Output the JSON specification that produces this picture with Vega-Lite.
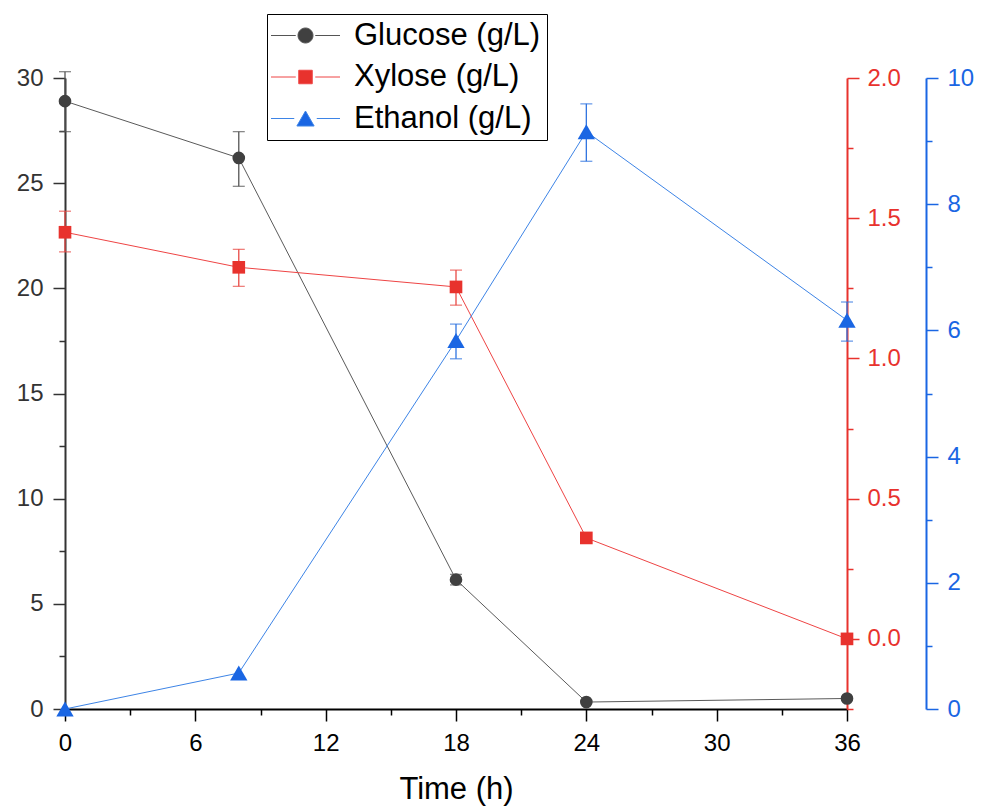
{
  "$schema": "https://vega.github.io/schema/vega-lite/v6.json",
  "autosize": {"type": "none"},
  "padding": {"left": 65, "top": 78, "right": 140, "bottom": 98},
  "width": 782,
  "height": 631,
  "background": "#ffffff",
  "config": {
    "view": {"stroke": null},
    "font": "Liberation Sans",
    "axis": {"grid": false, "labelFont": "Liberation Sans", "titleFont": "Liberation Sans"}
  },
  "data": {
    "values": [
      {"series": "Glucose (g/L)", "t": 0, "v": 28.9, "lo": 27.45, "hi": 30.3},
      {"series": "Glucose (g/L)", "t": 8, "v": 26.2, "lo": 24.85, "hi": 27.45},
      {"series": "Glucose (g/L)", "t": 18, "v": 6.15, "lo": 5.9, "hi": 6.4},
      {"series": "Glucose (g/L)", "t": 24, "v": 0.33},
      {"series": "Glucose (g/L)", "t": 36, "v": 0.5},
      {"series": "Xylose (g/L)", "t": 0, "v": 1.45, "lo": 1.38, "hi": 1.525},
      {"series": "Xylose (g/L)", "t": 8, "v": 1.325, "lo": 1.257, "hi": 1.389},
      {"series": "Xylose (g/L)", "t": 18, "v": 1.255, "lo": 1.19, "hi": 1.315},
      {"series": "Xylose (g/L)", "t": 24, "v": 0.36},
      {"series": "Xylose (g/L)", "t": 36, "v": 0.0},
      {"series": "Ethanol (g/L)", "t": 0, "v": 0},
      {"series": "Ethanol (g/L)", "t": 8, "v": 0.57},
      {"series": "Ethanol (g/L)", "t": 18, "v": 5.84, "lo": 5.55, "hi": 6.1},
      {"series": "Ethanol (g/L)", "t": 24, "v": 9.15, "lo": 8.68, "hi": 9.59},
      {"series": "Ethanol (g/L)", "t": 36, "v": 6.16, "lo": 5.83, "hi": 6.45}
    ]
  },
  "layer": [
    {
      "transform": [{"filter": "datum.series === 'Glucose (g/L)'"}],
      "layer": [
        {
          "transform": [{"filter": "isValid(datum.lo)"}],
          "mark": {"type": "errorbar", "ticks": {"color": "#555555"}, "rule": {"color": "#555555"}, "size": 12, "thickness": 1.3, "color": "#555555"},
          "encoding": {
            "x": {"field": "t", "type": "quantitative", "scale": {"domain": [0, 36], "nice": false, "zero": false}, "axis": null},
            "y": {"field": "lo", "type": "quantitative", "scale": {"domain": [0, 30], "nice": false}, "axis": null},
            "y2": {"field": "hi"}
          }
        },
        {
          "mark": {"type": "line", "color": "#5a5a5a", "strokeWidth": 1},
          "encoding": {
            "x": {"field": "t", "type": "quantitative", "scale": {"domain": [0, 36], "nice": false, "zero": false},
              "axis": {"orient": "bottom", "values": [0, 6, 12, 18, 24, 30, 36], "title": "Time (h)", "titleFontSize": 31, "titleFontWeight": "normal", "titleColor": "#000000", "titlePadding": 19, "labelFontSize": 24, "labelColor": "#000000", "labelFlush": false, "labelPadding": 10, "tickSize": 12, "tickWidth": 1.5, "tickColor": "#000000", "domainColor": "#000000", "domainWidth": 2}},
            "y": {"field": "v", "type": "quantitative", "scale": {"domain": [0, 30], "nice": false},
              "axis": {"orient": "left", "values": [0, 5, 10, 15, 20, 25, 30], "title": null, "labelFontSize": 24, "labelColor": "#333333", "labelPadding": 10, "tickSize": 12, "tickWidth": 1.5, "tickColor": "#333333", "domainColor": "#333333", "domainWidth": 2}}
          }
        },
        {
          "mark": {"type": "point", "filled": true, "shape": "circle", "size": 160, "opacity": 1},
          "encoding": {
            "x": {"field": "t", "type": "quantitative", "scale": {"domain": [0, 36], "nice": false, "zero": false},
              "axis": {"orient": "bottom", "values": [3, 9, 15, 21, 27, 33], "title": null, "labels": false, "domain": false, "tickSize": 6, "tickWidth": 1.5, "tickColor": "#000000"}},
            "y": {"field": "v", "type": "quantitative", "scale": {"domain": [0, 30], "nice": false},
              "axis": {"orient": "left", "values": [2.5, 7.5, 12.5, 17.5, 22.5, 27.5], "title": null, "labels": false, "domain": false, "tickSize": 6, "tickWidth": 1.5, "tickColor": "#333333"}},
            "color": {
              "field": "series", "type": "nominal",
              "scale": {"domain": ["Glucose (g/L)", "Xylose (g/L)", "Ethanol (g/L)"], "range": ["#404040", "#e8322d", "#1a66e3"]},
              "legend": {
                "orient": "none", "legendX": 202, "legendY": -64, "title": null,
                "strokeColor": "#000000", "fillColor": "#ffffff", "padding": 6,
                "labelFont": "Liberation Sans", "labelFontSize": 31, "labelColor": "#000000", "labelLimit": 400,
                "symbolSize": 225, "symbolOffset": 17, "labelOffset": 33, "rowPadding": 9.5, "symbolStrokeWidth": 1,
                "encoding": {
                  "symbols": {
                    "shape": {"value": {"expr": "datum.value === 'Glucose (g/L)' ? 'M-4.6,0H-1.3M1.3,0H4.6M1,0A1,1,0,1,1,-1,0A1,1,0,1,1,1,0Z' : datum.value === 'Xylose (g/L)' ? 'M-4.6,0H-1.3M1.3,0H4.6M-0.9,-0.9H0.9V0.9H-0.9Z' : 'M-4.6,0H-1.5M1.5,0H4.6M0,-1L1.15,1H-1.15Z'"}},
                    "stroke": {"value": {"expr": "datum.value === 'Glucose (g/L)' ? '#555555' : datum.value === 'Xylose (g/L)' ? '#ee4444' : '#3d84e6'"}},
                    "strokeWidth": {"value": 1}
                  }
                }
              }
            }
          }
        }
      ],
      "resolve": {"axis": {"x": "independent", "y": "independent"}}
    },
    {
      "transform": [{"filter": "datum.series === 'Xylose (g/L)'"}],
      "layer": [
        {
          "transform": [{"filter": "isValid(datum.lo)"}],
          "mark": {"type": "errorbar", "ticks": {"color": "#e84a45"}, "rule": {"color": "#e84a45"}, "size": 12, "thickness": 1.3, "color": "#e84a45"},
          "encoding": {
            "x": {"field": "t", "type": "quantitative", "scale": {"domain": [0, 36], "nice": false, "zero": false}, "axis": null},
            "y": {"field": "lo", "type": "quantitative", "scale": {"domain": [-0.25, 2], "nice": false, "zero": false}, "axis": null},
            "y2": {"field": "hi"}
          }
        },
        {
          "mark": {"type": "line", "color": "#ee4444", "strokeWidth": 1},
          "encoding": {
            "x": {"field": "t", "type": "quantitative", "scale": {"domain": [0, 36], "nice": false, "zero": false}, "axis": null},
            "y": {"field": "v", "type": "quantitative", "scale": {"domain": [-0.25, 2], "nice": false, "zero": false},
              "axis": {"orient": "right", "values": [0, 0.5, 1, 1.5, 2], "format": ".1f", "title": null, "labelFontSize": 24, "labelColor": "#e8322d", "labelPadding": 8, "tickSize": 12, "tickWidth": 1.5, "tickColor": "#e8322d", "domainColor": "#e8322d", "domainWidth": 2}}
          }
        },
        {
          "mark": {"type": "point", "filled": true, "shape": "square", "size": 160, "opacity": 1},
          "encoding": {
            "x": {"field": "t", "type": "quantitative", "scale": {"domain": [0, 36], "nice": false, "zero": false}, "axis": null},
            "y": {"field": "v", "type": "quantitative", "scale": {"domain": [-0.25, 2], "nice": false, "zero": false},
              "axis": {"orient": "right", "values": [-0.25, 0.25, 0.75, 1.25, 1.75], "title": null, "labels": false, "domain": false, "tickSize": 6, "tickWidth": 1.5, "tickColor": "#e8322d"}},
            "color": {"field": "series", "type": "nominal", "scale": {"domain": ["Glucose (g/L)", "Xylose (g/L)", "Ethanol (g/L)"], "range": ["#404040", "#e8322d", "#1a66e3"]}, "legend": null}
          }
        }
      ],
      "resolve": {"axis": {"x": "independent", "y": "independent"}}
    },
    {
      "transform": [{"filter": "datum.series === 'Ethanol (g/L)'"}],
      "layer": [
        {
          "transform": [{"filter": "isValid(datum.lo)"}],
          "mark": {"type": "errorbar", "ticks": {"color": "#2f74e0"}, "rule": {"color": "#2f74e0"}, "size": 12, "thickness": 1.3, "color": "#2f74e0"},
          "encoding": {
            "x": {"field": "t", "type": "quantitative", "scale": {"domain": [0, 36], "nice": false, "zero": false}, "axis": null},
            "y": {"field": "lo", "type": "quantitative", "scale": {"domain": [0, 10], "nice": false}, "axis": null},
            "y2": {"field": "hi"}
          }
        },
        {
          "mark": {"type": "line", "color": "#3d84e6", "strokeWidth": 1},
          "encoding": {
            "x": {"field": "t", "type": "quantitative", "scale": {"domain": [0, 36], "nice": false, "zero": false}, "axis": null},
            "y": {"field": "v", "type": "quantitative", "scale": {"domain": [0, 10], "nice": false},
              "axis": {"orient": "right", "offset": 79, "values": [0, 2, 4, 6, 8, 10], "title": null, "labelFontSize": 24, "labelColor": "#1a66e3", "labelPadding": 9, "tickSize": 12, "tickWidth": 1.5, "tickColor": "#1a66e3", "domainColor": "#1a66e3", "domainWidth": 2}}
          }
        },
        {
          "mark": {"type": "point", "filled": true, "shape": "triangle-up", "size": 300, "opacity": 1},
          "encoding": {
            "x": {"field": "t", "type": "quantitative", "scale": {"domain": [0, 36], "nice": false, "zero": false}, "axis": null},
            "y": {"field": "v", "type": "quantitative", "scale": {"domain": [0, 10], "nice": false},
              "axis": {"orient": "right", "offset": 79, "values": [1, 3, 5, 7, 9], "title": null, "labels": false, "domain": false, "tickSize": 6, "tickWidth": 1.5, "tickColor": "#1a66e3"}},
            "color": {"field": "series", "type": "nominal", "scale": {"domain": ["Glucose (g/L)", "Xylose (g/L)", "Ethanol (g/L)"], "range": ["#404040", "#e8322d", "#1a66e3"]}, "legend": null}
          }
        }
      ],
      "resolve": {"axis": {"x": "independent", "y": "independent"}}
    }
  ],
  "resolve": {"scale": {"y": "independent"}, "axis": {"x": "independent", "y": "independent"}}
}
